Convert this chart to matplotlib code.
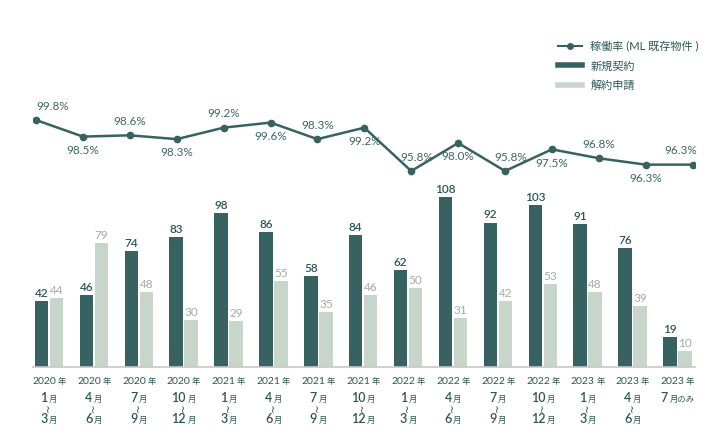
import matplotlib
matplotlib.use("Agg")
import matplotlib.pyplot as plt
from matplotlib.lines import Line2D
from matplotlib.offsetbox import TextArea, HPacker, AnnotationBbox

plt.rcParams['font.family'] = ['Lato', 'Noto Sans CJK JP', 'DejaVu Sans']

# data
years = ['2020', '2020', '2020', '2020', '2021', '2021', '2021', '2021',
         '2022', '2022', '2022', '2022', '2023', '2023', '2023']
month_from = ['1', '4', '7', '10', '1', '4', '7', '10', '1', '4', '7', '10', '1', '4', '7']
month_to = ['3', '6', '9', '12', '3', '6', '9', '12', '3', '6', '9', '12', '3', '6', None]
new_contracts = [42, 46, 74, 83, 98, 86, 58, 84, 62, 108, 92, 103, 91, 76, 19]
cancellations = [44, 79, 48, 30, 29, 55, 35, 46, 50, 31, 42, 53, 48, 39, 10]
occupancy = [99.8, 98.5, 98.6, 98.3, 99.2, 99.6, 98.3, 99.2, 95.8, 98.0,
             95.8, 97.5, 96.8, 96.3, 96.3]
legend_labels = ['稼働率 (ML 既存物件 )', '新規契約', '解約申請']

DARK = '#386262'
LIGHT = '#c7d5cb'
TXT = '#2e5555'
LINE_TXT = '#3e6666'
GREY_TXT = '#a2aaa6'

W, H = 709, 436
fig = plt.figure(figsize=(W / 100, H / 100), dpi=100)
rect = [33 / W, (H - 367) / H, 662 / W, (367 - 30) / H]

# bars
ax = fig.add_axes(rect)
n = len(new_contracts)
idx = list(range(n))
bw = 0.30
off = 0.167
ax.bar([i - off for i in idx], new_contracts, width=bw, color=DARK)
ax.bar([i + off for i in idx], cancellations, width=bw, color=LIGHT)
for i in idx:
    ax.annotate(str(new_contracts[i]), (i - off, new_contracts[i]), xytext=(0, 1.5),
                textcoords='offset points', ha='center', va='bottom',
                fontsize=8.5, color=TXT, fontweight='semibold')
    ax.annotate(str(cancellations[i]), (i + off, cancellations[i]), xytext=(0, 1.5),
                textcoords='offset points', ha='center', va='bottom',
                fontsize=8.5, color=GREY_TXT)
ax.set_xlim(-0.356, 14.39)
ax.set_ylim(0, 214.6)
for s in ['top', 'left', 'right']:
    ax.spines[s].set_visible(False)
ax.spines['bottom'].set_color('#c9c6ca')
ax.spines['bottom'].set_linewidth(1.2)
ax.set_xticks([])
ax.set_yticks([])
ax.patch.set_alpha(0)


def packed(x, y_px, parts):
    boxes = [TextArea(t, textprops=dict(fontsize=s, color=TXT, fontweight=w))
             for t, s, w in parts]
    pack = HPacker(children=boxes, align='baseline', pad=0, sep=1)
    ab = AnnotationBbox(pack, (x, 0), xycoords=ax.get_xaxis_transform(),
                        xybox=(0, -y_px * 0.72), boxcoords='offset points',
                        frameon=False, box_alignment=(0.5, 0.5),
                        annotation_clip=False)
    ax.add_artist(ab)


for i in idx:
    packed(i, 14, [(years[i], 7.5, 'normal'), ('年', 6, 'normal')])
    if month_to[i] is None:
        packed(i, 31, [(month_from[i], 9, 'semibold'), ('月のみ', 6, 'normal')])
    else:
        packed(i, 31, [(month_from[i], 9, 'semibold'), ('月', 6, 'normal')])
        ax.text(i, -41 / 337, '~', transform=ax.get_xaxis_transform(),
                ha='center', va='center', fontsize=7.5, color=TXT,
                rotation=90, family='DejaVu Sans')
        packed(i, 52, [(month_to[i], 9, 'semibold'), ('月', 6, 'normal')])

# line
axl = fig.add_axes(rect)
axl.set_xlim(-0.064, 14.05)
axl.set_ylim(80.43, 106.86)
axl.axis('off')
axl.plot(idx, occupancy, color=DARK, lw=1.8, marker='o', markersize=4.5)
for i, v in enumerate(occupancy):
    dy = 6 if i % 2 == 0 else -6
    va = 'bottom' if dy > 0 else 'top'
    ha, dx = 'center', 0
    if i == 0:
        ha, dx = 'left', 0
    elif i == n - 1:
        ha, dx = 'right', 3
    elif occupancy[i - 1] - v > 2:
        dx = 4  # keep clear of the steep drop
    axl.annotate(f'{v:.1f}%', (i, v), xytext=(dx, dy), textcoords='offset points',
                 ha=ha, va=va, fontsize=8.5, color=LINE_TXT, annotation_clip=False)

handles = [
    Line2D([], [], color=DARK, lw=1.5, marker='o', markersize=4),
    Line2D([], [], color=DARK, lw=4),
    Line2D([], [], color=LIGHT, lw=4),
]
leg = fig.legend(handles, legend_labels, loc='upper left',
                 bbox_to_anchor=(558 / W, 1 - 41 / H), frameon=False,
                 fontsize=8, handlelength=2.2, handletextpad=0.7,
                 labelspacing=0.75, borderpad=0, borderaxespad=0)
for t in leg.get_texts():
    t.set_color(TXT)

fig.savefig('out.png', dpi=100)
